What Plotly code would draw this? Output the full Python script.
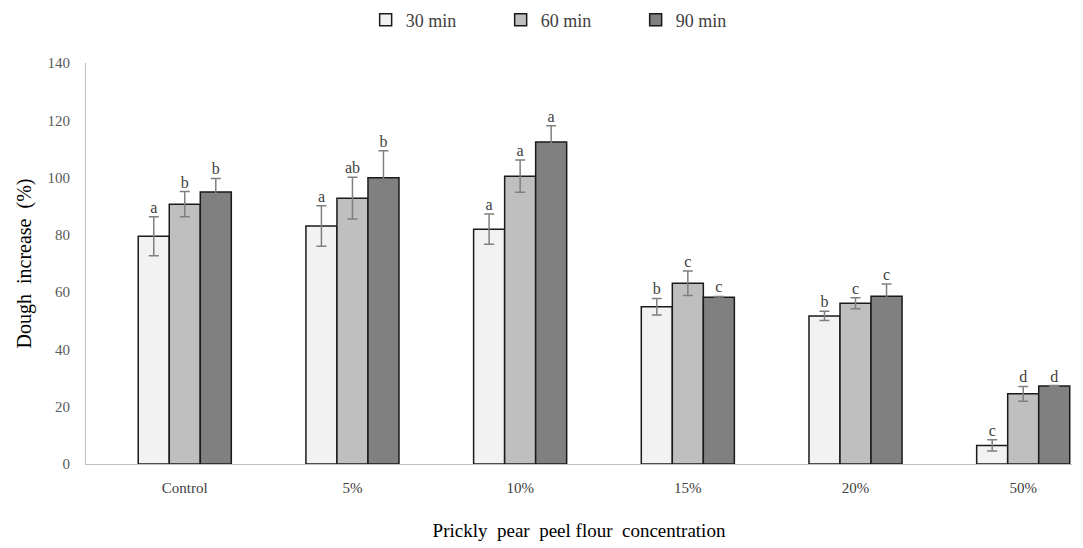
import plotly.graph_objects as go

categories = ["Control", "5%", "10%", "15%", "20%", "50%"]
series_names = ["30 min", "60 min", "90 min"]

v30 = [79.5, 83.1, 82.0, 54.9, 51.7, 6.5]
v60 = [90.7, 92.8, 100.5, 63.1, 56.1, 24.5]
v90 = [95.0, 99.9, 112.4, 58.2, 58.6, 27.2]

e30 = [6.8, 7.1, 5.3, 2.9, 1.6, 2.0]
e60 = [4.4, 7.3, 5.6, 4.3, 1.9, 2.6]
e90 = [4.7, 9.5, 5.7, 0.3, 4.2, 0.2]

l30 = ["a", "a", "a", "b", "b", "c"]
l60 = ["b", "ab", "a", "c", "c", "d"]
l90 = ["b", "b", "a", "c", "c", "d"]

colors = ["#f2f2f2", "#bfbfbf", "#808080"]
offsets = [-0.185, 0.0, 0.185]
bw = 0.185
FONT = "Liberation Serif, Times New Roman, serif"

fig = go.Figure()
idx = list(range(len(categories)))
for name, vals, errs, labs, col, off in zip(series_names, [v30, v60, v90], [e30, e60, e90],
                                            [l30, l60, l90], colors, offsets):
    xs = [i + off for i in idx]
    fig.add_trace(go.Bar(
        x=xs, y=vals, width=bw, name=name,
        marker=dict(color=col, line=dict(color="#1a1a1a", width=1.5)),
        error_y=dict(type="data", array=errs, visible=True, color="#7f7f7f", thickness=1.5, width=5),
    ))
    fig.add_trace(go.Scatter(
        x=xs, y=[v + e for v, e in zip(vals, errs)], mode="text", text=labs,
        textposition="top center", textfont=dict(family=FONT, size=16, color="#404040"),
        showlegend=False, hoverinfo="skip",
    ))

W, H = 1075, 540
fig.update_layout(
    width=W, height=H,
    margin=dict(l=78, r=11, t=55, b=84, autoexpand=False),
    plot_bgcolor="white", paper_bgcolor="white",
    barmode="overlay",
    font=dict(family=FONT, color="#404040"),
    legend=dict(orientation="h", x=0.489, xanchor="center", yref="container", y=1 - 12 / H,
                yanchor="middle", entrywidth=90, entrywidthmode="pixels",
                font=dict(family=FONT, size=18, color="#404040"), itemwidth=30,
                traceorder="normal"),
    xaxis=dict(range=[-0.589, 5.291], tickmode="array", tickvals=idx, ticktext=categories,
               showline=True, linecolor="#bfbfbf", linewidth=1, showgrid=False, zeroline=False,
               automargin=False, ticklabelstandoff=10,
               ticks="", tickfont=dict(family=FONT, size=15, color="#404040"),
               title=dict(text="Prickly  pear  peel flour  concentration",
                          font=dict(family=FONT, size=19, color="#000000"), standoff=28)),
    yaxis=dict(range=[0, 140], dtick=20, showline=True, linecolor="#bfbfbf", linewidth=1,
               showgrid=False, zeroline=False, ticks="", automargin=False, ticklabelstandoff=12,
               tickfont=dict(family=FONT, size=15, color="#595959"),
               title=dict(text="Dough  increase  (%)",
                          font=dict(family=FONT, size=20, color="#000000"), standoff=10)),
)

fig.write_html("out.html")
